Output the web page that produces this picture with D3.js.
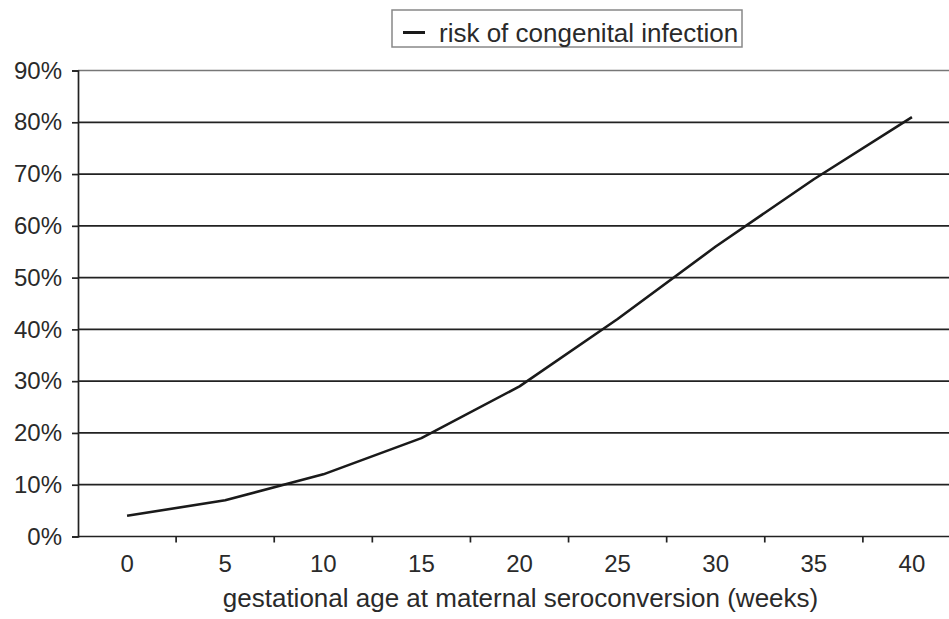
<!DOCTYPE html>
<html><head><meta charset="utf-8">
<script src="https://cdn.jsdelivr.net/npm/d3@7/dist/d3.min.js"></script>
<style>
html,body{margin:0;padding:0;background:#fff;}
svg{display:block;}
text{font-family:"Liberation Sans",Arial,sans-serif;fill:#2a2a2a;}
</style></head>
<body>
<svg id="chart" width="949" height="619"></svg>
<script>
const weeks = [0, 5, 10, 15, 20, 25, 30, 35, 40];
const risk = [4, 7, 12, 19, 29, 42, 56, 69, 81];
const yTicks = [0, 10, 20, 30, 40, 50, 60, 70, 80, 90];
const seriesName = "risk of congenital infection";
const xTitle = "gestational age at maternal seroconversion (weeks)";

(function () {
const svg = d3.select("#chart");
const mLeft = 78, mRight = 961, mTop = 70.5, mBottom = 536.5;

const x = d3.scaleBand().domain(weeks).range([mLeft, mRight]);
const y = d3.scaleLinear().domain([0, 90]).range([mBottom, mTop]);

// gridlines
svg.append("g").selectAll("line").data(yTicks.filter(d => d > 0)).join("line")
  .attr("x1", mLeft).attr("x2", 949)
  .attr("y1", d => y(d)).attr("y2", d => y(d))
  .attr("stroke", d => d === 90 ? "#777" : "#222").attr("stroke-width", 1.7);

// y axis
const yAxis = svg.append("g").attr("transform", `translate(${mLeft},0)`)
  .call(d3.axisLeft(y).tickValues(yTicks).tickFormat(d => d + "%").tickSize(6).tickPadding(10));
yAxis.select(".domain").attr("stroke", "#222").attr("stroke-width", 1.7);
yAxis.selectAll(".tick line").attr("stroke", "#222").attr("stroke-width", 1.7);
yAxis.selectAll(".tick text").attr("font-size", 24).attr("fill", "#2a2a2a")
  .attr("font-family", "Liberation Sans, Arial, sans-serif");

// x axis line
svg.append("line").attr("x1", mLeft).attr("x2", 949).attr("y1", mBottom).attr("y2", mBottom)
  .attr("stroke", "#222").attr("stroke-width", 1.7);
// x ticks at band boundaries
svg.append("g").selectAll("line").data(weeks.slice(1)).join("line")
  .attr("x1", d => x(d)).attr("x2", d => x(d))
  .attr("y1", mBottom).attr("y2", mBottom + 6)
  .attr("stroke", "#222").attr("stroke-width", 1.7);
// x labels
svg.append("g").selectAll("text").data(weeks).join("text")
  .attr("x", d => x(d) + x.bandwidth() / 2).attr("y", 572)
  .attr("text-anchor", "middle").attr("font-size", 24).text(d => d);

// x title
svg.append("text").attr("x", (mLeft + mRight) / 2 + 1).attr("y", 607)
  .attr("text-anchor", "middle").attr("font-size", 26).text(xTitle);

// line
const line = d3.line().x((d, i) => x(weeks[i]) + x.bandwidth() / 2).y(d => y(d));
svg.append("path").datum(risk).attr("d", line)
  .attr("fill", "none").attr("stroke", "#1a1a1a").attr("stroke-width", 2.6)
  .attr("stroke-linejoin", "round");

// legend
const lg = svg.append("g");
lg.append("rect").attr("x", 392).attr("y", 10).attr("width", 350).attr("height", 37)
  .attr("fill", "#fff").attr("stroke", "#888").attr("stroke-width", 1.5);
lg.append("line").attr("x1", 403).attr("x2", 425).attr("y1", 32.5).attr("y2", 32.5)
  .attr("stroke", "#1a1a1a").attr("stroke-width", 3);
lg.append("text").attr("x", 439).attr("y", 42).attr("font-size", 26).text(seriesName);
})();
</script>
</body></html>
